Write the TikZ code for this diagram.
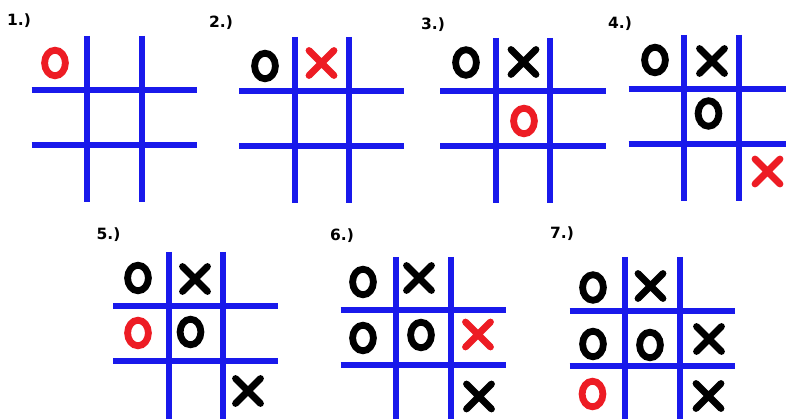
\documentclass[tikz,border=0pt]{standalone}
\usepackage{fontspec}
\setmainfont{DejaVu Sans}
\definecolor{gridblue}{RGB}{25,25,235}
\definecolor{markred}{RGB}{237,28,36}
\newcommand\tttgrid[5]{% V1, H1, top, bottom, right end
  \draw[gridline] (#1,#3) -- (#1,#4) (#1+54.5,#3) -- (#1+54.5,#4)
    (#1-55.5,#2) -- (#5,#2) (#1-55.5,#2+55) -- (#5,#2+55);}
\newcommand\markO[3]{\draw[omark,draw=#1] (#2,#3) ellipse [x radius=10.4pt, y radius=12.8pt];}
\newcommand\markX[3]{\draw[xmark,draw=#1] (#2-12.5,#3-12.5) -- (#2+12.5,#3+12.5) (#2+12.5,#3-12.5) -- (#2-12.5,#3+12.5);}
\begin{document}
\begin{tikzpicture}[x=1pt,y=-1pt,
  gridline/.style={draw=gridblue,line width=6pt},
  omark/.style={line width=6.8pt},
  xmark/.style={line width=6.8pt,line cap=round},
  steplabel/.style={font=\bfseries\fontsize{15.5}{15.5}\selectfont,inner sep=0pt}]
\useasboundingbox (0,0) rectangle (786,419);
\fill[white] (0,0) rectangle (786,419);
% labels
\node[steplabel] (l1) at (19,21) {1.)};
\node[steplabel] (l2) at (221,22.5) {2.)};
\node[steplabel] (l3) at (433,25) {3.)};
\node[steplabel] (l4) at (620,23.5) {4.)};
\node[steplabel] (l5) at (108.5,234.5) {5.)};
\node[steplabel] (l6) at (342,236) {6.)};
\node[steplabel] (l7) at (562,233.5) {7.)};
% grids
\tttgrid{87}{90}{36}{202}{197}
\tttgrid{294.7}{91}{37}{203}{404}
\tttgrid{495.7}{91}{38}{203}{606}
\tttgrid{684}{89}{35}{201}{786}
\tttgrid{168.7}{306}{252}{419}{278}
\tttgrid{396}{310}{257}{419}{506}
\tttgrid{625}{311}{257}{419}{735}
% board 1
\markO{markred}{55}{63}
% board 2
\markO{black}{265}{66}
\markX{markred}{321.5}{63}
% board 3
\markO{black}{466}{62.5}
\markX{black}{523.5}{62}
\markO{markred}{524}{121}
% board 4
\markO{black}{655}{60}
\markX{black}{712}{61}
\markO{black}{708.5}{113.5}
\markX{markred}{767.5}{171.5}
% board 5
\markO{black}{138}{278}
\markX{black}{195}{279}
\markO{markred}{138}{333}
\markO{black}{190.5}{332}
\markX{black}{248}{391}
% board 6
\markO{black}{363}{282}
\markX{black}{419}{278}
\markO{black}{363}{338}
\markO{black}{421}{335}
\markX{markred}{478}{334.5}
\markX{black}{479}{396.5}
% board 7
\markO{black}{593}{287.5}
\markX{black}{650.5}{286}
\markO{black}{593}{344}
\markO{black}{650}{345}
\markX{black}{709}{339}
\markO{markred}{592.5}{394}
\markX{black}{708.5}{396}
\end{tikzpicture}
\end{document}
